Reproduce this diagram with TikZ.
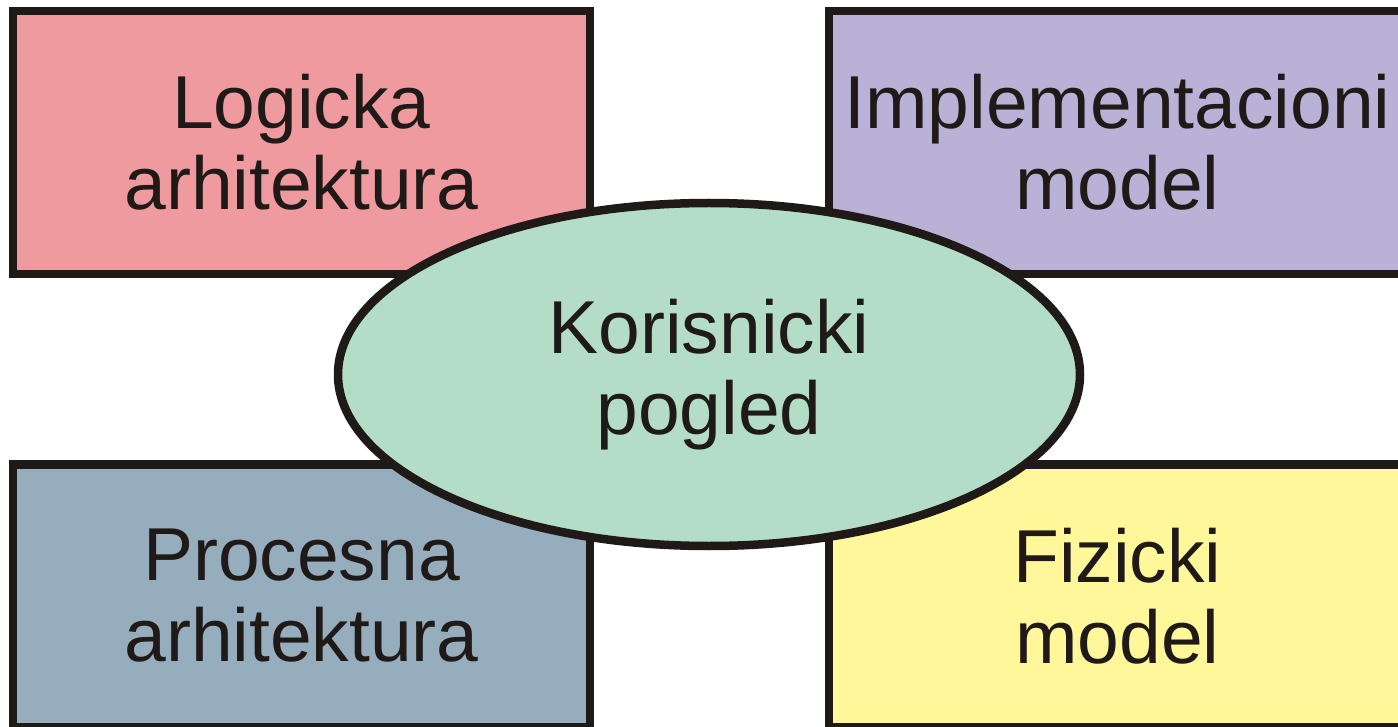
\documentclass[tikz,border=0pt]{standalone}
\usepackage{fontspec}
\setmainfont{Liberation Sans}
\usepackage{tikz}
\usetikzlibrary{shapes}

\definecolor{edge}{RGB}{31,26,23}
\definecolor{logfill}{RGB}{239,154,159}
\definecolor{implfill}{RGB}{185,177,214}
\definecolor{procfill}{RGB}{150,173,190}
\definecolor{fizfill}{RGB}{255,247,153}
\definecolor{userfill}{RGB}{180,221,200}

\begin{document}
\begin{tikzpicture}[x=1pt,y=-1pt,
  viewbox/.style={rectangle,draw=edge,line width=8.5pt,inner sep=0pt,
    minimum width=577pt,minimum height=263pt,align=center,
    font=\fontsize{75}{81}\selectfont,text=edge}]
\useasboundingbox (0,0) rectangle (1398,727);
\node (log) [viewbox,fill=logfill] at (301.5,142.5) {Logicka\\arhitektura};
\node (impl) [viewbox,fill=implfill] at (1117.5,142.5) {Implementacioni\\model};
\node (proc) [viewbox,fill=procfill] at (301.5,596) {Procesna\\arhitektura};
\node (fiz) [viewbox,fill=fizfill] at (1117.5,596) {Fizicki\\model};
\node (user) [ellipse,draw=edge,fill=userfill,line width=8.5pt,inner sep=0pt,
  minimum width=742pt,minimum height=343pt,align=center,
  font=\fontsize{75}{81}\selectfont,text=edge] at (709,374.5) {Korisnicki\\pogled};
\end{tikzpicture}
\end{document}
